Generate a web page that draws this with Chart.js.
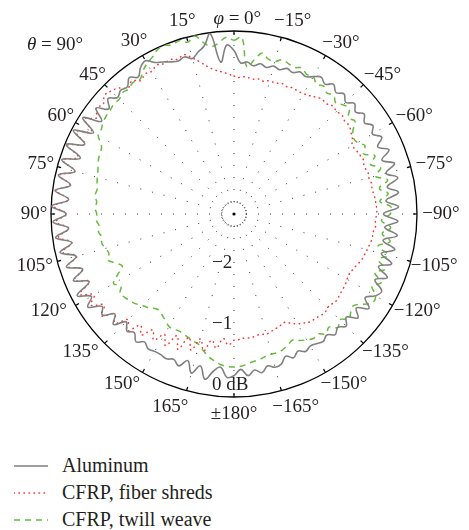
<!DOCTYPE html>
<html>
<head>
<meta charset="utf-8">
<script src="https://cdn.jsdelivr.net/npm/chart.js@4.4.1/dist/chart.umd.min.js"></script>
<style>
  body { margin: 0; background: #fff; }
  #wrap { position: relative; width: 469px; height: 530px; }
  #chartBox { position: absolute; left: 0; top: 0; width: 469px; height: 432px; }
  #legend { position: absolute; left: 0; top: 452px; font-family: 'Liberation Serif', 'Times New Roman', serif; font-size: 20px; color: #231f20; }
  .row { position: relative; height: 27px; width: 300px; }
  .row svg { position: absolute; left: 14px; top: 12px; }
  .row span { position: absolute; left: 62px; top: 0; line-height: 27px; white-space: nowrap; }
</style>
</head>
<body>
<div id="wrap">
  <div id="chartBox"><canvas id="polar"></canvas></div>
  <div id="legend"></div>
</div>
<script>
(function() {
    "use strict";

    // korak po uglu (stepeni), uzorci idu u smeru kazaljke: 0, -2.5, -5 ... 180 ... 2.5
    const stepDeg = 2.5;

    // oznake uglova, svakih 15 stepeni (prva se crta posebno, sa italik phi)
    const angleTicks = ['φ = 0°', '−15°', '−30°', '−45°', '−60°', '−75°', '−90°', '−105°', '−120°', '−135°', '−150°', '−165°',
                        '±180°', '165°', '150°', '135°', '120°', '105°', '90°', '75°', '60°', '45°', '30°', '15°'];

    // radijalna skala u dB
    const radialTicks = [-2, -1, 0];
    const radialTickText = ['−2', '−1', '0 dB'];

    // Aluminum (dB)
    const aluminum = [
        -0.32, -0.52, -0.50, -0.55, -0.50, -0.54, -0.49, -0.52, -0.46, -0.49, -0.43, -0.46,
        -0.40, -0.34, -0.40, -0.32, -0.40, -0.33, -0.41, -0.32, -0.40, -0.31, -0.39, -0.30,
        -0.38, -0.27, -0.40, -0.25, -0.42, -0.24, -0.42, -0.25, -0.45, -0.28, -0.50, -0.30,
        -0.55, -0.31, -0.52, -0.30, -0.52, -0.30, -0.50, -0.29, -0.48, -0.28, -0.45, -0.27,
        -0.32, -0.45, -0.30, -0.47, -0.35, -0.50, -0.40, -0.48, -0.42, -0.50, -0.45, -0.48,
        -0.50, -0.46, -0.52, -0.45, -0.52, -0.42, -0.40, -0.45, -0.36, -0.42, -0.34, -0.45,
        -0.35, -0.32, -0.48, -0.40, -0.25, -0.45, -0.30, -0.48, -0.35, -0.42, -0.38, -0.40,
        -0.40, -0.38, -0.44, -0.36, -0.46, -0.40, -0.50, -0.32, -0.45, -0.28, -0.36, -0.16,
        -0.30, -0.10, -0.38, -0.15, -0.36, -0.12, -0.32, -0.08, -0.30, -0.05, -0.28, -0.03,
        -0.25, -0.01, -0.28, -0.04, -0.28, -0.05, -0.30, -0.04, -0.32, -0.02, -0.30, -0.03,
        -0.34, -0.06, -0.35, -0.15, -0.32, -0.20, -0.30, -0.25, -0.28, -0.18, -0.26, -0.15,
        -0.10, -0.20, -0.25, -0.30, -0.33, -0.30, -0.36, -0.28, -0.20, -0.02, -0.50, -0.23
    ];

    // CFRP, fiber shreds (dB)
    const fiberShreds = [
        -0.74, -0.76, -0.74, -0.77, -0.75, -0.77, -0.74, -0.75, -0.72, -0.74, -0.72, -0.73,
        -0.72, -0.70, -0.66, -0.63, -0.64, -0.60, -0.62, -0.60, -0.63, -0.62, -0.66, -0.70,
        -0.76, -0.74, -0.72, -0.70, -0.73, -0.70, -0.71, -0.69, -0.70, -0.68, -0.67, -0.66,
        -0.66, -0.68, -0.67, -0.70, -0.70, -0.72, -0.74, -0.76, -0.78, -0.82, -0.85, -0.87,
        -0.86, -0.84, -0.83, -0.82, -0.80, -0.82, -0.83, -0.80, -0.82, -0.83, -0.84, -0.88,
        -0.92, -0.98, -1.04, -1.02, -1.00, -0.98, -0.96, -0.98, -0.97, -0.95, -0.96, -0.94,
        -0.93, -0.85, -0.95, -0.78, -0.90, -0.70, -0.88, -0.66, -0.85, -0.60, -0.80, -0.57,
        -0.72, -0.55, -0.68, -0.50, -0.62, -0.40, -0.55, -0.35, -0.45, -0.26, -0.40, -0.22,
        -0.35, -0.15, -0.38, -0.17, -0.35, -0.14, -0.33, -0.12, -0.30, -0.10, -0.28, -0.08,
        -0.25, -0.05, -0.28, -0.06, -0.27, -0.07, -0.30, -0.06, -0.28, -0.05, -0.30, -0.08,
        -0.30, -0.10, -0.25, -0.15, -0.20, -0.12, -0.15, -0.20, -0.30, -0.25, -0.33, -0.28,
        -0.30, -0.25, -0.28, -0.26, -0.30, -0.26, -0.35, -0.45, -0.55, -0.62, -0.66, -0.70
    ];

    // CFRP, twill weave (dB)
    const twillWeave = [
        -0.15, -0.10, -0.58, -0.45, -0.32, -0.40, -0.41, -0.35, -0.38, -0.40, -0.36, -0.42,
        -0.40, -0.48, -0.44, -0.50, -0.46, -0.53, -0.47, -0.44, -0.55, -0.50, -0.62, -0.68,
        -0.66, -0.58, -0.66, -0.50, -0.62, -0.48, -0.60, -0.42, -0.58, -0.45, -0.60, -0.42,
        -0.44, -0.58, -0.42, -0.55, -0.40, -0.58, -0.38, -0.52, -0.36, -0.50, -0.34, -0.45,
        -0.32, -0.30, -0.42, -0.53, -0.50, -0.45, -0.55, -0.48, -0.58, -0.52, -0.60, -0.58,
        -0.62, -0.66, -0.72, -0.68, -0.64, -0.62, -0.62, -0.61, -0.58, -0.56, -0.53, -0.50,
        -0.49, -0.50, -0.52, -0.57, -0.62, -0.70, -0.78, -0.81, -0.84, -0.86, -0.88, -0.87,
        -0.87, -0.92, -0.96, -1.00, -0.98, -0.92, -0.88, -0.82, -0.78, -0.75, -0.72, -0.80,
        -0.72, -0.85, -0.98, -0.90, -0.80, -0.85, -0.82, -0.78, -0.80, -0.76, -0.78, -0.74,
        -0.75, -0.72, -0.74, -0.70, -0.72, -0.70, -0.68, -0.66, -0.63, -0.60, -0.59, -0.55,
        -0.43, -0.42, -0.38, -0.36, -0.35, -0.33, -0.34, -0.30, -0.32, -0.28, -0.31, -0.22,
        -0.15, -0.10, -0.03, -0.01, -0.05, -0.02, -0.08, -0.01, -0.15, -0.23, -0.18, -0.10
    ];

    const serif = "'Liberation Serif', 'Times New Roman', serif";
    const textColor = '#231f20';

    // kategorije (uglovi u stepenima)
    const angles = aluminum.map((v, i) => -i * stepDeg);

    const seriesDefs = [
        { label: 'Aluminum', data: aluminum, color: '#808080', dash: [], width: 1.6, cap: 'butt' },
        { label: 'CFRP, fiber shreds', data: fiberShreds, color: '#ff3030', dash: [0.5, 4.5], width: 1.5, cap: 'round' },
        { label: 'CFRP, twill weave', data: twillWeave, color: '#66bb3c', dash: [6, 5], width: 1.5, cap: 'butt' }
    ];

    // dodatni crtez: unutrasnji krug, oznake na obodu, oznake uglova, dB oznake, theta
    const polarExtras = {
        id: 'polarExtras',
        afterDraw(chart) {
            const scale = chart.scales.r;
            const ctx = chart.ctx;
            const cx = scale.xCenter, cy = scale.yCenter;
            const R = scale.drawingArea;
            ctx.save();

            // mali tackasti krug u centru
            ctx.strokeStyle = '#333';
            ctx.lineWidth = 1;
            ctx.setLineDash([1, 2]);
            ctx.beginPath();
            ctx.arc(cx, cy, scale.getDistanceFromCenterForValue(-2.8), 0, Math.PI * 2);
            ctx.stroke();
            ctx.setLineDash([]);
            ctx.fillStyle = '#000';
            ctx.beginPath();
            ctx.arc(cx, cy, 1.6, 0, Math.PI * 2);
            ctx.fill();

            // kratke crtice na obodu
            ctx.strokeStyle = '#000';
            ctx.lineWidth = 1.2;
            for (let i = 0; i < angles.length; i += 6) {
                const p1 = scale.getPointPosition(i, R);
                const p2 = scale.getPointPosition(i, R - 4);
                ctx.beginPath();
                ctx.moveTo(p1.x, p1.y);
                ctx.lineTo(p2.x, p2.y);
                ctx.stroke();
            }

            // oznake uglova oko kruga
            ctx.fillStyle = textColor;
            ctx.textBaseline = 'middle';
            const regular = '19px ' + serif;
            const italic = 'italic 19px ' + serif;
            angleTicks.forEach((txt, k) => {
                const i = k * 6;
                ctx.font = regular;
                if (k === 0) {
                    // "φ = 0°" centrirano na znaku jednakosti
                    const p = scale.getPointPosition(i, R + 12);
                    ctx.font = italic;
                    const wPhi = ctx.measureText('φ').width;
                    ctx.font = regular;
                    const wEq = ctx.measureText(' ').width + ctx.measureText('=').width / 2;
                    const x0 = p.x - wPhi - wEq;
                    ctx.textAlign = 'left';
                    ctx.font = italic;
                    ctx.fillText('φ', x0, p.y);
                    ctx.font = regular;
                    ctx.fillText(' = 0°', x0 + wPhi, p.y);
                    return;
                }
                const p = scale.getPointPosition(i, R + 17);
                const ux = (p.x - cx) / (R + 17);
                const uy = (p.y - cy) / (R + 17);
                let x = p.x, y = p.y;
                if (ux < -0.05) {
                    x -= uy > 0.4 ? 12 : (uy > 0.1 ? 6 : 0);
                } else if (ux > 0.05) {
                    x += uy > 0.4 ? 10 : 7;
                }
                if (uy > 0.4 && Math.abs(ux) > 0.4) y -= 3;
                if (uy < 0 && Math.abs(ux) > 0.5) y += 2;
                ctx.textAlign = 'center';
                ctx.fillText(txt, x, y);
            });

            // dB oznake ispod centra
            ctx.font = regular;
            ctx.textAlign = 'left';
            radialTicks.forEach((v, i) => {
                const d = scale.getDistanceFromCenterForValue(v);
                ctx.fillText(radialTickText[i], cx - 22, cy + d - 12);
            });

            // theta = 90
            ctx.font = italic;
            ctx.fillText('θ', 27, 45);
            const wt = ctx.measureText('θ').width;
            ctx.font = regular;
            ctx.fillText(' = 90°', 27 + wt, 45);
            ctx.restore();
        }
    };

    const ctx = document.getElementById('polar').getContext('2d');
    const polarChart = new Chart(ctx, {
        type: 'radar',
        data: {
            labels: angles,
            datasets: seriesDefs.map(s => ({
                label: s.label,
                data: s.data,
                borderColor: s.color,
                borderWidth: s.width,
                borderDash: s.dash,
                borderCapStyle: s.cap,
                backgroundColor: 'rgba(0,0,0,0)',
                fill: false,
                pointRadius: 0,
                pointHoverRadius: 0,
                tension: 0.4
            }))
        },
        options: {
            responsive: true,
            maintainAspectRatio: false,
            animation: false,
            layout: { padding: { top: 31, bottom: 35, left: 51, right: 52 } },
            plugins: {
                legend: { display: false },
                tooltip: { enabled: false }
            },
            scales: {
                r: {
                    min: -3,
                    max: 0,
                    startAngle: 0,
                    ticks: { display: false, stepSize: 1 },
                    grid: {
                        circular: true,
                        color: c => (c.tick && c.tick.value === 0) ? '#000' : 'rgba(0,0,0,0)',
                        lineWidth: 1.3
                    },
                    angleLines: {
                        display: true,
                        color: '#333',
                        lineWidth: c => (c.index % 6 === 0 ? 1 : 0),
                        borderDash: [1, 11]
                    },
                    pointLabels: {
                        display: false,
                        callback: (label, i) => (i % 6 === 0 ? angleTicks[i / 6] : '')
                    }
                }
            }
        },
        plugins: [polarExtras]
    });

    // legenda ispod grafikona
    const legend = document.getElementById('legend');
    seriesDefs.forEach(s => {
        const row = document.createElement('div');
        row.className = 'row';
        const dash = s.dash.length ? s.dash.join(' ') : 'none';
        row.innerHTML = '<svg width="36" height="4"><line x1="0" y1="2" x2="34" y2="2" stroke="' + s.color +
            '" stroke-width="' + s.width + '" stroke-linecap="' + s.cap + '" stroke-dasharray="' + dash + '"/></svg><span>' + s.label + '</span>';
        legend.appendChild(row);
    });
})();
</script>
</body>
</html>
